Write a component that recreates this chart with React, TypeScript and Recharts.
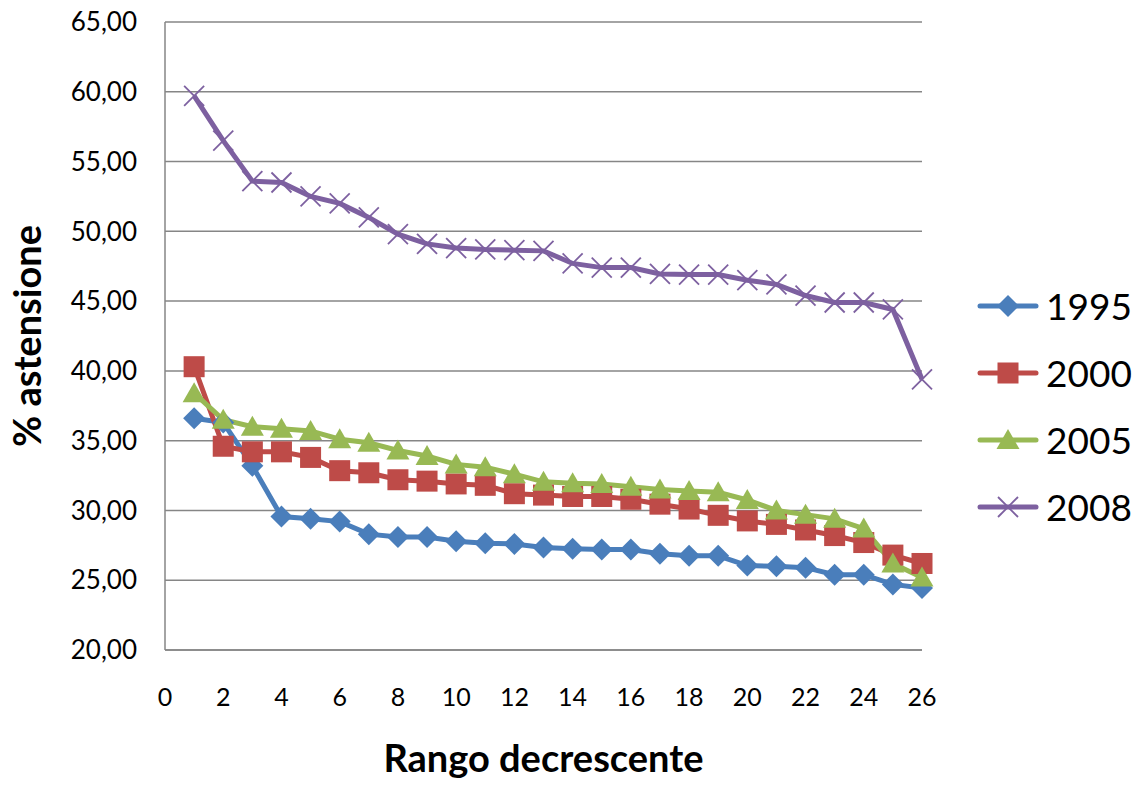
import React from 'react';
import { LineChart, Line, XAxis, YAxis, CartesianGrid, Legend } from 'recharts';

const ranks = [1, 2, 3, 4, 5, 6, 7, 8, 9, 10, 11, 12, 13, 14, 15, 16, 17, 18, 19, 20, 21, 22, 23, 24, 25, 26];
const v1995 = [36.6, 36.3, 33.2, 29.56, 29.4, 29.2, 28.3, 28.1, 28.1, 27.8, 27.65, 27.6, 27.35, 27.25, 27.2, 27.2, 26.9, 26.75, 26.75, 26.05, 26.0, 25.9, 25.4, 25.4, 24.7, 24.45];
const v2000 = [40.3, 34.6, 34.2, 34.2, 33.8, 32.85, 32.7, 32.2, 32.1, 31.9, 31.8, 31.2, 31.1, 31.0, 31.0, 30.8, 30.45, 30.1, 29.65, 29.25, 29.0, 28.6, 28.2, 27.7, 26.8, 26.2];
const v2005 = [38.4, 36.5, 36.0, 35.85, 35.7, 35.1, 34.85, 34.3, 33.9, 33.3, 33.1, 32.6, 32.05, 31.95, 31.9, 31.7, 31.5, 31.4, 31.3, 30.75, 30.0, 29.7, 29.4, 28.7, 26.2, 25.2];
const v2008 = [59.7, 56.5, 53.6, 53.5, 52.5, 52.0, 51.0, 49.8, 49.1, 48.8, 48.7, 48.65, 48.6, 47.7, 47.4, 47.4, 46.95, 46.9, 46.9, 46.5, 46.2, 45.4, 44.9, 44.9, 44.4, 39.4];

const xTicks = [0, 2, 4, 6, 8, 10, 12, 14, 16, 18, 20, 22, 24, 26];
const yTicks = [20, 25, 30, 35, 40, 45, 50, 55, 60, 65];

const series = [
    { key: 'y1995', name: '1995', color: '#4A7EBB', shape: 'diamond' },
    { key: 'y2000', name: '2000', color: '#BE4B48', shape: 'square' },
    { key: 'y2005', name: '2005', color: '#98B954', shape: 'triangle' },
    { key: 'y2008', name: '2008', color: '#7D60A0', shape: 'x' },
];

const data = ranks.map((r, i) => ({
    rank: r,
    y1995: v1995[i],
    y2000: v2000[i],
    y2005: v2005[i],
    y2008: v2008[i],
}));

const FONT = 'Lato, "Noto Sans", sans-serif';
const GRID = '#868686';

function Marker({ shape, color, cx, cy }: { shape: string; color: string; cx: number; cy: number }) {
    if (shape === 'diamond') {
        const r = 11;
        return <polygon points={`${cx},${cy - r} ${cx + r},${cy} ${cx},${cy + r} ${cx - r},${cy}`} fill={color} />;
    }
    if (shape === 'square') {
        const h = 10.5;
        return <rect x={cx - h} y={cy - h} width={h * 2} height={h * 2} fill={color} />;
    }
    if (shape === 'triangle') {
        const w = 11.5;
        return <polygon points={`${cx},${cy - 11} ${cx + w},${cy + 9} ${cx - w},${cy + 9}`} fill={color} />;
    }
    const r = 10;
    return (
        <g stroke={color} strokeWidth={1.8}>
            <line x1={cx - r} y1={cy - r} x2={cx + r} y2={cy + r} />
            <line x1={cx - r} y1={cy + r} x2={cx + r} y2={cy - r} />
        </g>
    );
}

const makeDot = (shape: string, color: string) => {
    // eslint-disable-next-line @typescript-eslint/no-explicit-any
    const Dot = (props: any) => {
        const { cx, cy, index } = props;
        if (cx == null || cy == null) return <g key={index} />;
        return <Marker key={index} shape={shape} color={color} cx={cx} cy={cy} />;
    };
    return Dot;
};

const CustomLegend = () => (
    <div style={{ fontFamily: FONT }}>
        {series.map((s) => (
            <div key={s.key} style={{ display: 'flex', alignItems: 'center', height: 67 }}>
                <svg width={62} height={30}>
                    <line x1={3} y1={15} x2={59} y2={15} stroke={s.color} strokeWidth={5} strokeLinecap="round" />
                    <Marker shape={s.shape} color={s.color} cx={31} cy={15} />
                </svg>
                <span style={{ fontSize: 37, color: '#000', marginLeft: 7 }}>{s.name}</span>
            </div>
        ))}
    </div>
);

export default function App() {
    return (
        <div style={{ position: 'absolute', left: 0, top: 0, width: 1141, height: 785, background: '#fff' }}>
            <LineChart
                width={1141}
                height={785}
                data={data}
                margin={{ top: 22, right: 55, left: 0, bottom: 0 }}
            >
                <CartesianGrid vertical={false} stroke={GRID} strokeWidth={1.5} />
                <XAxis
                    dataKey="rank"
                    type="number"
                    domain={[0, 26]}
                    ticks={xTicks}
                    height={135}
                    axisLine={{ stroke: GRID, strokeWidth: 1.5 }}
                    tickLine={false}
                    tickSize={0}
                    tickMargin={38}
                    tick={{ fill: '#000', fontSize: 25, fontFamily: FONT }}
                    label={{
                        value: 'Rango decrescente',
                        position: 'insideBottom',
                        offset: 13,
                        style: { fontSize: 38, fontWeight: 'bold', fill: '#000', fontFamily: FONT },
                    }}
                />
                <YAxis
                    type="number"
                    domain={[20, 65]}
                    ticks={yTicks}
                    width={165}
                    axisLine={{ stroke: GRID, strokeWidth: 1.5 }}
                    tickLine={false}
                    tickSize={0}
                    tickMargin={28}
                    tickFormatter={(v: number) => v.toFixed(2).replace('.', ',')}
                    tick={{ fill: '#000', fontSize: 26, fontFamily: FONT }}
                    label={{
                        value: '% astensione',
                        angle: -90,
                        position: 'insideLeft',
                        offset: 28,
                        style: { fontSize: 38, fontWeight: 'bold', fill: '#000', fontFamily: FONT, textAnchor: 'middle' },
                    }}
                />
                <Legend
                    layout="vertical"
                    align="right"
                    verticalAlign="top"
                    wrapperStyle={{ left: 977, top: 272, width: 164 }}
                    content={<CustomLegend />}
                />
                {series.map((s) => (
                    <Line
                        key={s.key}
                        type="linear"
                        dataKey={s.key}
                        name={s.name}
                        stroke={s.color}
                        strokeWidth={5}
                        dot={makeDot(s.shape, s.color)}
                        activeDot={false}
                        isAnimationActive={false}
                    />
                ))}
            </LineChart>
        </div>
    );
}
